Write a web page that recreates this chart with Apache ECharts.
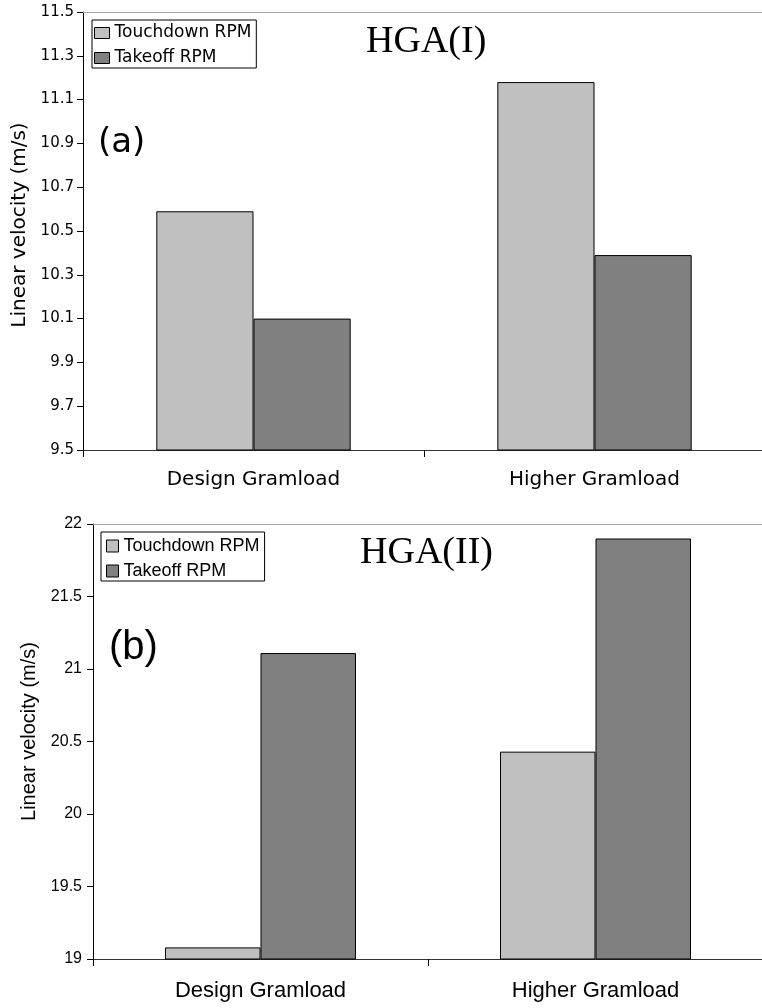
<!DOCTYPE html>
<html>
<head>
<meta charset="utf-8">
<title>Linear velocity — HGA(I) and HGA(II)</title>
<script src="https://cdn.jsdelivr.net/npm/echarts@6/dist/echarts.min.js"></script>
<style>
  html, body { margin: 0; padding: 0; background: #fff; overflow: hidden; }
  /* the plot areas run slightly past the right edge of the page */
  #chart { width: 772px; height: 1008px; }
</style>
</head>
<body>
<div id="chart"></div>
<script>
// Categories shared by both panels
const categories = ['Design Gramload', 'Higher Gramload'];

// Panel (a): HGA(I) linear velocity, m/s
const touchdownI = [10.59, 11.18];
const takeoffI = [10.10, 10.39];

// Panel (b): HGA(II) linear velocity, m/s
const touchdownII = [19.08, 20.43];
const takeoffII = [21.11, 21.90];

const seriesNames = ['Touchdown RPM', 'Takeoff RPM'];
const yNameText = 'Linear velocity (m/s)';

const LIGHT = '#c0c0c0';
const DARK = '#808080';
const SANS_A = 'DejaVu Sans';
const SANS_B = 'Liberation Sans';
const SERIF = 'Liberation Serif';

const chart = echarts.init(document.getElementById('chart'), null, { renderer: 'canvas' });

function barSeries(name, data, color, idx) {
  return {
    type: 'bar',
    name: name,
    data: data,
    xAxisIndex: idx,
    yAxisIndex: idx,
    barGap: '0%',
    barCategoryGap: '43%',
    itemStyle: { color: color, borderColor: '#000', borderWidth: 1 },
    emphasis: { disabled: true },
    animation: false
  };
}

function legendFor(left, top, font, size, iw, ih, pad) {
  return {
    orient: 'vertical',
    left: left,
    top: top,
    data: seriesNames,
    icon: 'rect',
    itemWidth: iw,
    itemHeight: ih,
    itemGap: 5,
    padding: pad,
    backgroundColor: '#fff',
    borderColor: '#000',
    borderWidth: 1,
    borderRadius: 0,
    selectedMode: false,
    itemStyle: { borderColor: '#000', borderWidth: 1 },
    textStyle: { fontFamily: font, fontSize: size, color: '#000', lineHeight: 20 }
  };
}

// Plain gray rule along the top edge of a plot area
function topRule(idx) {
  return {
    type: 'category', gridIndex: idx, data: categories, position: 'top',
    axisLine: { show: true, lineStyle: { color: '#a8a8a8', width: 1 } },
    axisTick: { show: false },
    axisLabel: { show: false },
    splitLine: { show: false }
  };
}

const option = {
  backgroundColor: '#fff',
  animation: false,
  grid: [
    { left: 83, top: 12, width: 682, height: 438 },
    { left: 93, top: 524, width: 670, height: 435 }
  ],
  legend: [
    legendFor(92, 20, SANS_A, 17, 15, 11, [3, 5, 0, 2]),
    legendFor(101, 532, SANS_B, 18, 12, 12, [4, 5, 0, 5])
  ],
  xAxis: [
    {
      type: 'category', gridIndex: 0, data: categories,
      axisLine: { lineStyle: { color: '#333', width: 1 } },
      axisTick: { show: true, length: 7, lineStyle: { color: '#000' } },
      axisLabel: { fontFamily: SANS_A, fontSize: 20, color: '#000', margin: 20 }
    },
    {
      type: 'category', gridIndex: 1, data: categories,
      axisLine: { lineStyle: { color: '#333', width: 1 } },
      axisTick: { show: true, length: 7, lineStyle: { color: '#000' } },
      axisLabel: { fontFamily: SANS_B, fontSize: 22, color: '#000', margin: 21 }
    },
    topRule(0),
    topRule(1)
  ],
  yAxis: [
    {
      type: 'value', gridIndex: 0, min: 9.5, max: 11.5, interval: 0.2,
      name: yNameText, nameLocation: 'middle', nameGap: 44,
      nameTextStyle: { fontFamily: SANS_A, fontSize: 20, color: '#000', padding: [0, 0, 0, 12] },
      axisLine: { show: true, lineStyle: { color: '#000', width: 1 } },
      axisTick: { show: true, length: 6, lineStyle: { color: '#000' } },
      splitLine: { show: false },
      axisLabel: { fontFamily: SANS_A, fontSize: 15, color: '#000', margin: 9, formatter: v => v.toFixed(1) }
    },
    {
      type: 'value', gridIndex: 1, min: 19, max: 22, interval: 0.5,
      name: yNameText, nameLocation: 'middle', nameGap: 48,
      nameTextStyle: { fontFamily: SANS_B, fontSize: 20, color: '#000', padding: [0, 0, 0, 20] },
      axisLine: { show: true, lineStyle: { color: '#000', width: 1 } },
      axisTick: { show: true, length: 6, lineStyle: { color: '#000' } },
      splitLine: { show: false },
      axisLabel: { fontFamily: SANS_B, fontSize: 16, color: '#000', margin: 11 }
    }
  ],
  series: [
    barSeries(seriesNames[0], touchdownI, LIGHT, 0),
    barSeries(seriesNames[1], takeoffI, DARK, 0),
    barSeries(seriesNames[0], touchdownII, LIGHT, 1),
    barSeries(seriesNames[1], takeoffII, DARK, 1)
  ],
  graphic: [
    { type: 'text', left: 366, top: 23, style: { text: 'HGA(I)', fontFamily: SERIF, fontSize: 38, fill: '#000' } },
    { type: 'text', left: 98, top: 126, style: { text: '(a)', fontFamily: SANS_A, fontSize: 34, fill: '#000' } },
    { type: 'text', left: 360, top: 534, style: { text: 'HGA(II)', fontFamily: SERIF, fontSize: 38, fill: '#000' } },
    { type: 'text', left: 109, top: 628, style: { text: '(b)', fontFamily: SANS_B, fontSize: 40, fill: '#000' } }
  ]
};

chart.setOption(option);
</script>
</body>
</html>
